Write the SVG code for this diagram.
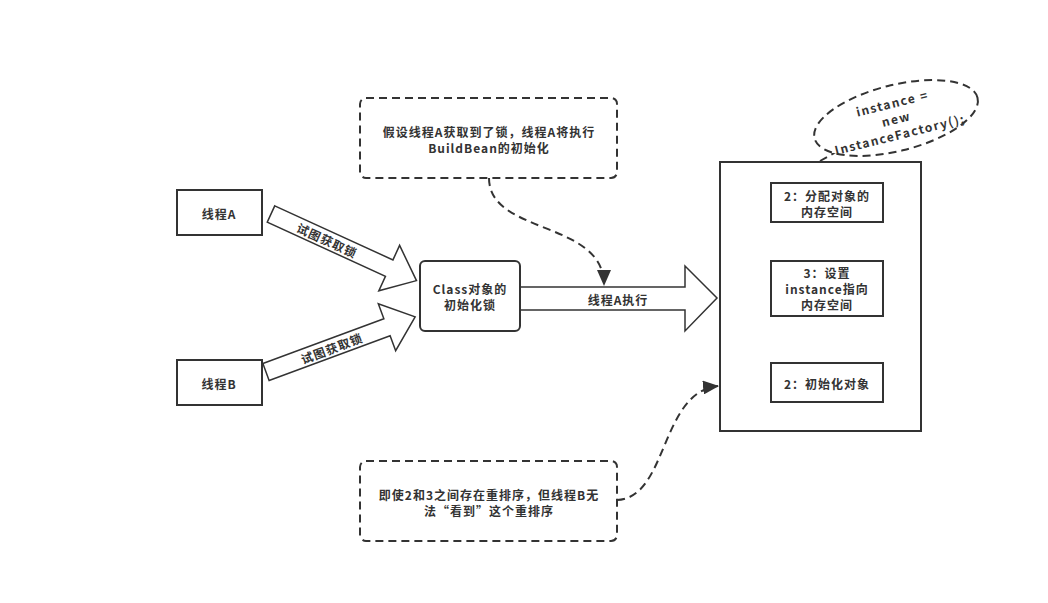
<svg xmlns="http://www.w3.org/2000/svg" width="1048" height="603" viewBox="0 0 1048 603">
<defs>
<style>
.box{fill:#fff;stroke:#333;stroke-width:2}
.dash{fill:#fff;stroke:#333;stroke-width:2;stroke-dasharray:8 5}
.conn{fill:none;stroke:#333;stroke-width:2;stroke-dasharray:8 5}
.blk{fill:#fff;stroke:#333;stroke-width:1.5}
text{font-family:"Noto Sans CJK SC","Microsoft YaHei",sans-serif;font-size:12px;letter-spacing:1px;font-weight:bold;fill:#333;text-anchor:middle;dominant-baseline:central}
.ell{letter-spacing:1.5px}
</style>
<marker id="ah2" markerWidth="16" markerHeight="14" refX="15" refY="7" orient="auto" markerUnits="userSpaceOnUse" viewBox="0 0 16 14">
<path d="M0,0 L16,7 L0,14 Z" fill="#333"/>
</marker>
</defs>
<rect width="1048" height="603" fill="#fff"/>

<g id="connectors">
<g id="arrowA" transform="translate(271,214) rotate(24.6)">
<path class="blk" d="M0,-9 L130,-9 L130,-25 L160,0 L130,25 L130,9 L0,9 Z"/>
<text x="62" y="0">试图获取锁</text>
</g>
<g id="arrowB" transform="translate(266,372) rotate(-20.3)">
<path class="blk" d="M0,-9 L129,-9 L129,-25 L159,0 L129,25 L129,9 L0,9 Z"/>
<text x="70" y="0">试图获取锁</text>
</g>
<g id="arrowExec">
<path class="blk" d="M520,287 L685,287 L685,266 L717,298 L685,331 L685,310 L520,310 Z"/>
<text x="618" y="299">线程A执行</text>
</g>
<path class="conn" d="M489,178 C489,235 604,220 604,285" marker-end="url(#ah2)"/>
<path class="conn" d="M617,500 C668,498 660,392 718,386" marker-end="url(#ah2)"/>
<path class="conn" d="M820,161 L838,151"/>
</g>

<g id="threadA">
<rect class="box" x="177" y="190" width="85" height="45"/>
<text x="219" y="213">线程A</text>
</g>
<g id="threadB">
<rect class="box" x="177" y="360" width="85" height="45"/>
<text x="219" y="383">线程B</text>
</g>
<g id="lock">
<rect class="box" x="420" y="261" width="100" height="70" rx="5"/>
<text x="470" y="288">Class对象的</text>
<text x="470" y="304">初始化锁</text>
</g>
<g id="noteTop">
<rect class="dash" x="360" y="98" width="257" height="80" rx="6"/>
<text x="489" y="131">假设线程A获取到了锁，线程A将执行</text>
<text x="489" y="147">BuildBean的初始化</text>
</g>
<g id="noteBottom">
<rect class="dash" x="360" y="461" width="257" height="80" rx="6"/>
<text x="489" y="494">即使2和3之间存在重排序，但线程B无</text>
<text x="489" y="510">法“看到”这个重排序</text>
</g>
<g id="container">
<rect class="box" x="720" y="162" width="201" height="269"/>
</g>
<g id="step1">
<rect class="box" x="771" y="183" width="112" height="39"/>
<text x="827" y="195">2：分配对象的</text>
<text x="827" y="211">内存空间</text>
</g>
<g id="step2">
<rect class="box" x="771" y="261" width="112" height="55"/>
<text x="827" y="272">3：设置</text>
<text x="827" y="288">instance指向</text>
<text x="827" y="304">内存空间</text>
</g>
<g id="step3">
<rect class="box" x="771" y="363" width="112" height="39"/>
<text x="827" y="383">2：初始化对象</text>
</g>
<g id="ellipseNote" transform="translate(896,118) rotate(-14)">
<ellipse class="dash" cx="0" cy="0" rx="84" ry="33"/>
<text class="ell" x="0" y="-16">instance =</text>
<text class="ell" x="0" y="0">new</text>
<text class="ell" x="0" y="16">InstanceFactory();</text>
</g>
</svg>
